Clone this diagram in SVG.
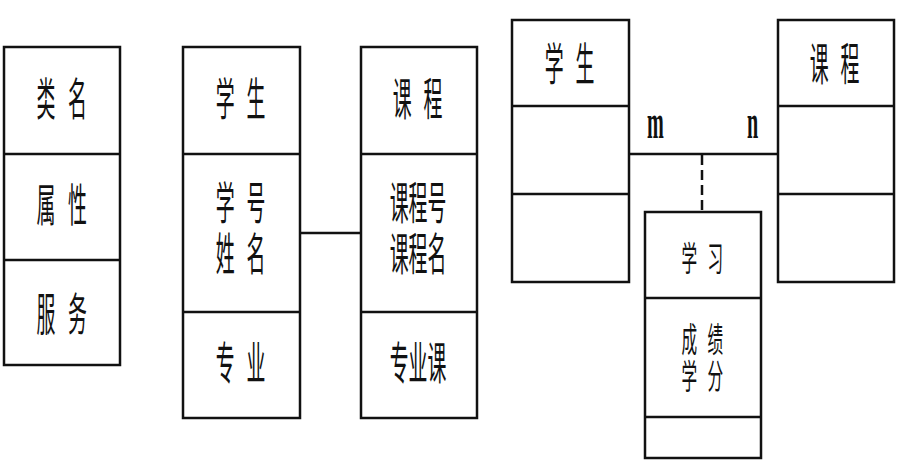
<svg xmlns="http://www.w3.org/2000/svg" width="899" height="470" viewBox="0 0 899 470">
<style>
.box{fill:#fff;stroke:#111;stroke-width:2.5}
.div{stroke:#111;stroke-width:2.5}
.t{font-family:"Noto Sans CJK SC","Noto Sans CJK JP",sans-serif;font-size:45px;fill:#111}
.ts{font-family:"Noto Sans CJK SC","Noto Sans CJK JP",sans-serif;font-size:34px;fill:#111}
.lbl{font-family:"Liberation Serif",serif;font-size:48px;font-weight:bold;fill:#111}
.con{stroke:#111;stroke-width:2.5;fill:none}
</style>
<rect width="899" height="470" fill="#fff"/>
<g id="connectors">
<line class="con" x1="300" y1="233" x2="361" y2="233"/>
<line class="con" x1="629" y1="154" x2="778" y2="154"/>
<line class="con" x1="702" y1="155" x2="702" y2="212" stroke-dasharray="10,5" stroke-width="1.8" stroke="#333"/>
<text class="lbl" transform="translate(647,138) scale(0.42,1)">m</text>
<text class="lbl" transform="translate(747,138) scale(0.42,1)">n</text>
</g>
<g id="class-template">
<rect class="box" x="4" y="47" width="116" height="318"/>
<line class="div" x1="4" y1="154" x2="120" y2="154"/>
<line class="div" x1="4" y1="260" x2="120" y2="260"/>
<text class="t" transform="translate(62,116) scale(0.42,1)" x="-61 -14 14">类 名</text>
<text class="t" transform="translate(62,222) scale(0.42,1)" x="-61 -14 14">属 性</text>
<text class="t" transform="translate(62,331) scale(0.42,1)" x="-61 -14 14">服 务</text>
</g>
<g id="student1">
<rect class="box" x="183" y="47" width="117" height="371"/>
<line class="div" x1="183" y1="154" x2="300" y2="154"/>
<line class="div" x1="183" y1="312" x2="300" y2="312"/>
<text class="t" transform="translate(241,116) scale(0.42,1)" x="-60 -13 13">学 生</text>
<text class="t" transform="translate(241,0) scale(0.42,1)"><tspan x="-60 -13 13" y="220">学 号</tspan><tspan x="-60 -13 13" y="271">姓 名</tspan></text>
<text class="t" transform="translate(241,380) scale(0.42,1)" x="-60 -13 13">专 业</text>
</g>
<g id="course1">
<rect class="box" x="361" y="47" width="116" height="371"/>
<line class="div" x1="361" y1="154" x2="477" y2="154"/>
<line class="div" x1="361" y1="312" x2="477" y2="312"/>
<text class="t" transform="translate(418,116) scale(0.42,1)" x="-60 -13 13">课 程</text>
<text class="t" transform="translate(418,0) scale(0.42,1)" text-anchor="middle"><tspan x="0" y="220">课程号</tspan><tspan x="0" y="271">课程名</tspan></text>
<text class="t" transform="translate(418,380) scale(0.42,1)" text-anchor="middle">专业课</text>
</g>
<g id="student2">
<rect class="box" x="512" y="20" width="117" height="262"/>
<line class="div" x1="512" y1="106" x2="629" y2="106"/>
<line class="div" x1="512" y1="194" x2="629" y2="194"/>
<text class="t" transform="translate(570,81) scale(0.42,1)" x="-60 -13 13">学 生</text>
</g>
<g id="course2">
<rect class="box" x="778" y="20" width="116" height="262"/>
<line class="div" x1="778" y1="106" x2="894" y2="106"/>
<line class="div" x1="778" y1="194" x2="894" y2="194"/>
<text class="t" transform="translate(835,81) scale(0.42,1)" x="-60 -13 13">课 程</text>
</g>
<g id="study">
<rect class="box" x="645" y="212" width="116" height="246"/>
<line class="div" x1="645" y1="298" x2="761" y2="298"/>
<line class="div" x1="645" y1="417" x2="761" y2="417"/>
<text class="ts" transform="translate(703,271) scale(0.46,1)" x="-47 -10 10">学 习</text>
<text class="ts" transform="translate(703,0) scale(0.46,1)"><tspan x="-47 -10 10" y="352">成 绩</tspan><tspan x="-47 -10 10" y="389">学 分</tspan></text>
</g>
</svg>
